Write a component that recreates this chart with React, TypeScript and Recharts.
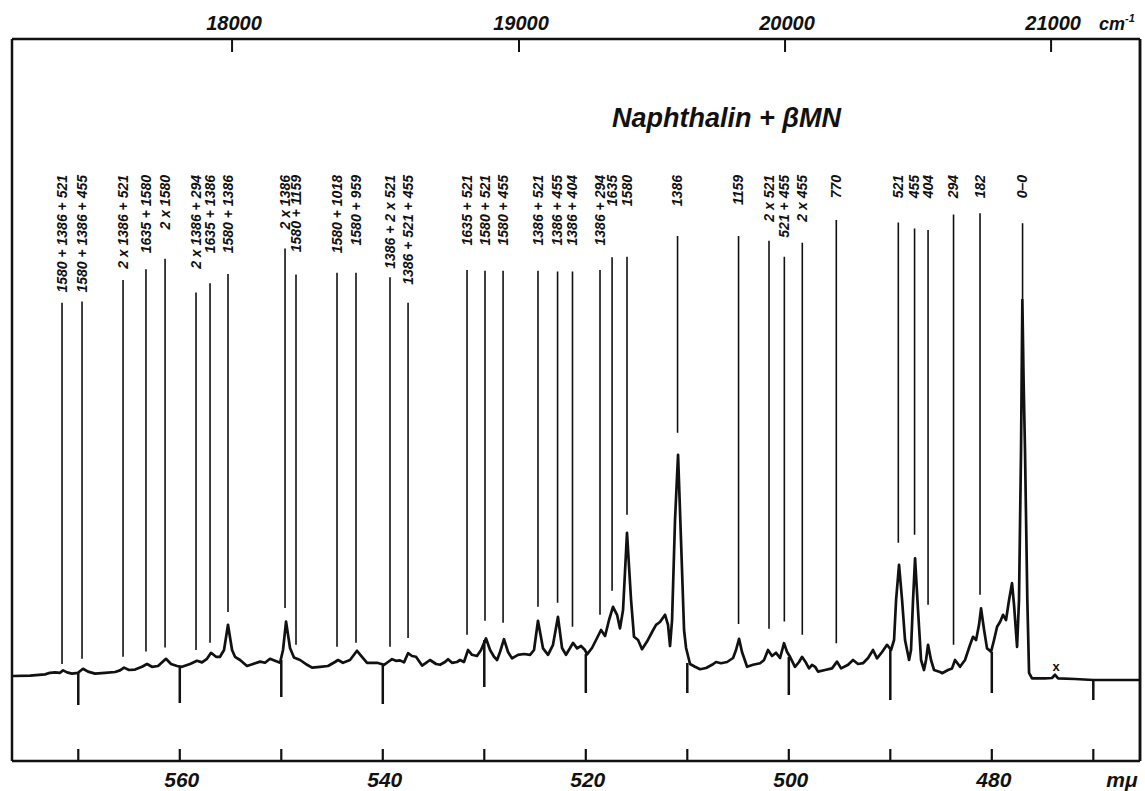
import React from 'react';
import { ComposedChart, Line, Scatter, XAxis, YAxis, ReferenceLine } from 'recharts';

// spectrum trace: wavelength in mμ, intensity in relative units
const SPECTRUM_NM = [
  576.43, 574.75, 573.28, 572.78, 572.29, 571.8, 571.5, 571.11, 570.62, 570.03,
  569.53, 569.04, 568.35, 567.37, 566.38, 565.89, 565.49, 565.0, 564.41, 563.72,
  563.23, 562.74, 562.14, 561.36, 560.86, 560.27, 559.78, 558.99, 558.3, 557.81,
  557.32, 556.92, 556.43, 556.04, 555.64, 555.25, 554.85, 554.56, 554.06, 553.38,
  552.78, 552.09, 551.6, 551.11, 550.62, 550.12, 549.83, 549.53, 549.14, 548.75,
  548.15, 547.46, 546.97, 546.18, 545.4, 544.71, 544.41, 543.92, 543.23, 542.54,
  542.05, 541.55, 540.57, 539.88, 539.48, 539.09, 538.7, 538.3, 537.91, 537.51,
  537.12, 536.73, 536.13, 535.74, 535.35, 534.75, 534.36, 533.87, 533.57, 533.18,
  532.69, 532.39, 532.0, 531.6, 531.21, 530.72, 530.32, 529.83, 529.43, 529.04,
  528.74, 528.45, 528.06, 527.66, 527.27, 526.68, 526.08, 525.49, 525.1, 524.71,
  524.21, 523.72, 523.23, 522.74, 522.34, 521.95, 521.55, 521.26, 520.86, 520.47,
  520.08, 519.88, 519.39, 518.89, 518.5, 518.1, 517.71, 517.32, 516.92, 516.63,
  516.33, 515.94, 515.54, 515.25, 514.85, 514.46, 513.97, 513.47, 513.08, 512.69,
  512.19, 511.9, 511.7, 511.5, 511.21, 510.91, 510.62, 510.32, 510.12, 509.73,
  509.24, 508.74, 508.15, 507.56, 507.17, 506.68, 506.08, 505.49, 505.2, 504.9,
  504.61, 504.11, 503.52, 502.83, 502.44, 502.05, 501.65, 501.26, 500.86, 500.47,
  500.17, 499.88, 499.39, 498.99, 498.7, 498.3, 498.01, 497.71, 497.41, 497.12,
  496.43, 495.74, 495.25, 494.85, 494.16, 493.67, 493.18, 492.69, 492.19, 491.7,
  491.31, 490.81, 490.32, 489.93, 489.63, 489.43, 489.14, 488.84, 488.55, 488.15,
  487.96, 487.76, 487.56, 487.27, 486.97, 486.68, 486.48, 486.28, 485.99, 485.69,
  485.1, 484.9, 484.31, 483.92, 483.62, 483.33, 483.13, 482.64, 482.14, 481.85,
  481.55, 481.26, 481.06, 480.76, 480.47, 480.07, 479.78, 479.48, 479.19, 478.89,
  478.6, 478.3, 478.01, 477.81, 477.51, 477.32, 477.12, 476.99, 476.87, 476.73,
  476.5, 476.33, 476.04, 474.75, 474.07, 473.77, 473.47, 471.8, 470.03, 467.37,
  465.4,
];
const SPECTRUM_INT = [
  1.0, 1.1, 1.4, 1.8, 1.9, 1.8, 2.4, 1.9, 1.6, 1.8,
  2.8, 2.1, 1.6, 1.8, 2.0, 2.4, 3.1, 2.5, 2.6, 3.3,
  4.0, 3.3, 3.5, 5.3, 4.0, 3.5, 3.3, 4.0, 4.8, 4.4,
  5.3, 6.8, 5.8, 5.8, 7.5, 13.8, 7.5, 5.8, 5.0, 3.5,
  4.0, 4.6, 4.3, 5.3, 4.8, 4.3, 7.5, 14.6, 8.0, 5.6,
  5.0, 3.8, 3.1, 3.3, 3.5, 4.5, 5.0, 4.3, 5.0, 7.3,
  5.8, 4.3, 4.3, 3.8, 4.5, 5.2, 4.8, 4.9, 4.4, 6.7,
  6.0, 5.8, 3.6, 4.3, 5.0, 4.0, 3.8, 4.5, 5.2, 4.3,
  4.5, 5.0, 4.5, 7.5, 6.3, 6.0, 7.5, 10.4, 7.5, 5.8,
  5.0, 7.0, 10.2, 7.0, 5.4, 6.3, 6.5, 6.3, 7.5, 14.8,
  7.9, 6.3, 8.8, 15.8, 8.0, 6.3, 8.0, 9.3, 7.9, 8.5,
  7.5, 6.4, 8.0, 10.5, 12.5, 11.0, 15.0, 18.3, 16.3, 12.9,
  17.5, 36.8, 20.0, 10.8, 10.0, 7.7, 9.6, 12.0, 13.8, 14.5,
  16.3, 13.8, 8.5, 15.0, 40.0, 56.3, 35.0, 12.5, 8.0, 4.0,
  3.3, 2.7, 3.0, 3.8, 4.5, 4.2, 4.5, 5.5, 7.5, 10.3,
  7.0, 3.3, 3.8, 4.2, 5.0, 7.5, 6.0, 6.8, 5.5, 9.2,
  7.0, 5.8, 3.3, 4.5, 5.8, 4.3, 2.9, 3.8, 3.3, 2.1,
  2.5, 2.9, 4.6, 2.9, 3.8, 5.0, 4.0, 4.2, 5.5, 7.5,
  5.4, 7.0, 8.8, 7.5, 10.0, 20.0, 28.8, 20.0, 10.0, 5.0,
  7.5, 20.0, 30.4, 17.5, 5.0, 2.5, 5.0, 8.8, 5.0, 2.5,
  2.0, 1.7, 2.5, 2.9, 5.0, 4.0, 3.3, 5.0, 8.8, 10.8,
  10.0, 13.8, 17.9, 12.5, 7.9, 7.1, 10.0, 13.3, 14.5, 16.3,
  15.0, 20.0, 24.2, 18.8, 8.3, 20.0, 57.5, 95.0, 75.0, 57.5,
  20.0, 1.8, 0.4, 0.4, 0.5, 1.3, 0.4, 0.25, 0, 0,
  0,
];

// band assignments (cm-1 differences from 0-0) with their marker lines
const BAND_LABELS = [
  '1580 + 1386 + 521', '1580 + 1386 + 455', '2 x 1386 + 521', '1635 + 1580', '2 x 1580',
  '2 x 1386 + 294', '1635 + 1386', '1580 + 1386', '2 x 1386', '1580 + 1159',
  '1580 + 1018', '1580 + 959', '1386 + 2 x 521', '1386 + 521 + 455', '1635 + 521',
  '1580 + 521', '1580 + 455', '1386 + 521', '1386 + 455', '1386 + 404',
  '1386 + 294', '1635', '1580', '1386', '1159',
  '2 x 521', '521 + 455', '2 x 455', '770', '521',
  '455', '404', '294', '182', '0–0',
];
const BAND_NM = [
  571.6, 569.63, 565.59, 563.33, 561.45, 558.4, 557.02, 555.25, 549.63, 548.55,
  544.51, 542.64, 539.29, 537.51, 531.7, 529.93, 528.15, 524.71, 522.78, 521.31,
  518.6, 517.41, 515.94, 510.96, 504.95, 501.95, 500.44, 498.67, 495.32, 489.21,
  487.61, 486.28, 483.77, 481.16, 476.97,
];
const BAND_LINE_TOP = [
  94.3, 94.6, 100.0, 102.7, 105.3, 96.9, 99.2, 101.5, 107.9, 101.4,
  101.8, 101.8, 100.7, 94.3, 102.5, 102.3, 102.3, 102.3, 102.1, 102.1,
  102.5, 105.7, 105.8, 111.0, 111.0, 109.8, 105.8, 109.3, 115.0, 114.4,
  112.9, 112.5, 116.4, 116.7, 114.2,
];
const BAND_LINE_BOTTOM = [
  4.0, 5.3, 5.8, 7.1, 8.1, 7.5, 9.3, 17.0, 18.0, 8.8,
  8.3, 9.3, 8.3, 10.5, 11.3, 14.8, 14.3, 18.3, 19.3, 13.3,
  16.3, 22.3, 41.3, 61.8, 14.0, 12.8, 14.6, 11.3, 9.2, 34.3,
  36.3, 18.8, 8.8, 21.3, 95.0,
];
const LABEL_LEVEL = 126.25;

// wavelength scale marks drawn down from the trace
const NM_TICKS = [570, 560, 550, 540, 530, 520, 510, 500, 490, 480, 470];
const NM_MARK_TOP = [1.75, 3.25, 5.0, 4.0, 10.0, 6.5, 4.25, 5.75, 7.5, 7.0, 0];
const NM_MARK_BOTTOM = [-6.25, -5.75, -4.25, -6.0, -1.75, -3.25, -3.25, -3.75, -5.0, -3.25, -5.0];

// wavenumber scale on top, placed where the plate has its marks
const WAVENUMBER_LABELS = ['18000', '19000', '20000', '21000'];
const WAVENUMBER_TICK_NM = [554.85, 526.58, 500.37, 474.16];

// the small "x" above the weak band past the 0-0
const CROSS_NM = [473.67];
const CROSS_LEVEL = [3.5];

const NM_DOMAIN: [number, number] = [465.4, 576.53];
const INT_DOMAIN: [number, number] = [-20.25, 160.25];

const FONT = '"Liberation Sans", Arial, sans-serif';

const spectrum = SPECTRUM_NM.map((nm, i) => ({ nm, int: SPECTRUM_INT[i] }));
const bandPoints = BAND_LABELS.map((text, i) => ({ nm: BAND_NM[i], lvl: LABEL_LEVEL, text }));
const crossPoints = CROSS_NM.map((nm, i) => ({ nm, lvl: CROSS_LEVEL[i] }));

function BandLabel(props: any) {
  const { cx, cy, payload } = props;
  return (
    <text
      x={cx}
      y={cy}
      dy="0.35em"
      transform={`rotate(-90 ${cx} ${cy})`}
      textAnchor="end"
      fontFamily={FONT}
      fontSize={14}
      fontWeight="bold"
      fontStyle="italic"
      fill="#111"
    >
      {payload.text}
    </text>
  );
}

function CrossMark(props: any) {
  const { cx, cy } = props;
  return (
    <text x={cx} y={cy} dy="0.35em" textAnchor="middle" fontFamily={FONT} fontSize={13} fontWeight="bold" fill="#111">
      x
    </text>
  );
}

function BottomTick(props: any) {
  const { x, y, payload } = props;
  const v = payload.value;
  const last = v === NM_TICKS[NM_TICKS.length - 1];
  return (
    <g>
      <line x1={x} x2={x} y1={y - 12} y2={y} stroke="#111" strokeWidth={2.2} />
      {v % 20 === 0 && (
        <text x={x + 2} y={y + 26} textAnchor="middle" fontFamily={FONT} fontSize={21} fontWeight="bold" fontStyle="italic" fill="#111">
          {v}
        </text>
      )}
      {last && (
        <text x={x + 13} y={y + 26} textAnchor="start" fontFamily={FONT} fontSize={21} fontWeight="bold" fontStyle="italic" fill="#111">
          mμ
        </text>
      )}
    </g>
  );
}

function TopTick(props: any) {
  const { x, y, index } = props;
  const last = index === WAVENUMBER_LABELS.length - 1;
  return (
    <g>
      <line x1={x} x2={x} y1={y} y2={y + 13} stroke="#111" strokeWidth={2} />
      <text x={x + 2} y={y - 9} textAnchor="middle" fontFamily={FONT} fontSize={20} fontWeight="bold" fontStyle="italic" fill="#111">
        {WAVENUMBER_LABELS[index]}
      </text>
      {last && (
        <text x={x + 48} y={y - 9} textAnchor="start" fontFamily={FONT} fontSize={18} fontWeight="bold" fontStyle="italic" fill="#111">
          cm
          <tspan dy={-8} fontSize={11}>-1</tspan>
        </text>
      )}
    </g>
  );
}

export default function App() {
  const frame = { stroke: '#111', strokeWidth: 2.5 };
  return (
    <div style={{ position: 'relative', width: 1145, height: 791, background: '#fff' }}>
      <style>{'html, body { margin: 0; padding: 0; overflow: hidden; }'}</style>
      <ComposedChart width={1145} height={791} margin={{ top: 8, right: 4, bottom: 0, left: 11 }}>
        <XAxis
          dataKey="nm"
          type="number"
          domain={NM_DOMAIN}
          reversed
          allowDataOverflow
          ticks={NM_TICKS}
          interval={0}
          height={30}
          tickSize={0}
          tickMargin={0}
          tickLine={false}
          axisLine={frame}
          tick={BottomTick}
        />
        <XAxis
          xAxisId="top"
          orientation="top"
          dataKey="nm"
          type="number"
          domain={NM_DOMAIN}
          reversed
          allowDataOverflow
          ticks={WAVENUMBER_TICK_NM}
          interval={0}
          height={31}
          tickSize={0}
          tickMargin={0}
          tickLine={false}
          axisLine={frame}
          tick={TopTick}
        />
        <YAxis type="number" domain={INT_DOMAIN} allowDataOverflow width={1} tick={false} tickLine={false} axisLine={frame} />
        <YAxis yAxisId="right" orientation="right" type="number" domain={INT_DOMAIN} allowDataOverflow width={1} tick={false} tickLine={false} axisLine={frame} />

        {/* right-hand edge of the frame */}
        <ReferenceLine x={NM_DOMAIN[0]} stroke="#111" strokeWidth={2.5} />

        {BAND_NM.map((nm, i) => (
          <ReferenceLine
            key={`band-${i}`}
            segment={[{ x: nm, y: BAND_LINE_TOP[i] }, { x: nm, y: BAND_LINE_BOTTOM[i] }]}
            stroke="#111"
            strokeWidth={1.6}
          />
        ))}
        {NM_TICKS.map((nm, i) => (
          <ReferenceLine
            key={`mark-${nm}`}
            segment={[{ x: nm, y: NM_MARK_TOP[i] }, { x: nm, y: NM_MARK_BOTTOM[i] }]}
            stroke="#111"
            strokeWidth={2.5}
          />
        ))}

        <Line
          data={spectrum}
          dataKey="int"
          type="linear"
          stroke="#111"
          strokeWidth={2.7}
          strokeLinejoin="round"
          dot={false}
          activeDot={false}
          isAnimationActive={false}
        />
        <Scatter data={bandPoints} dataKey="lvl" shape={BandLabel} isAnimationActive={false} />
        <Scatter data={crossPoints} dataKey="lvl" shape={CrossMark} isAnimationActive={false} />
      </ComposedChart>
      <div
        style={{
          position: 'absolute',
          left: 612,
          top: 105,
          fontFamily: FONT,
          fontSize: 27,
          lineHeight: '27px',
          fontWeight: 'bold',
          fontStyle: 'italic',
          color: '#111',
          whiteSpace: 'nowrap',
        }}
      >
        Naphthalin + βMN
      </div>
    </div>
  );
}
